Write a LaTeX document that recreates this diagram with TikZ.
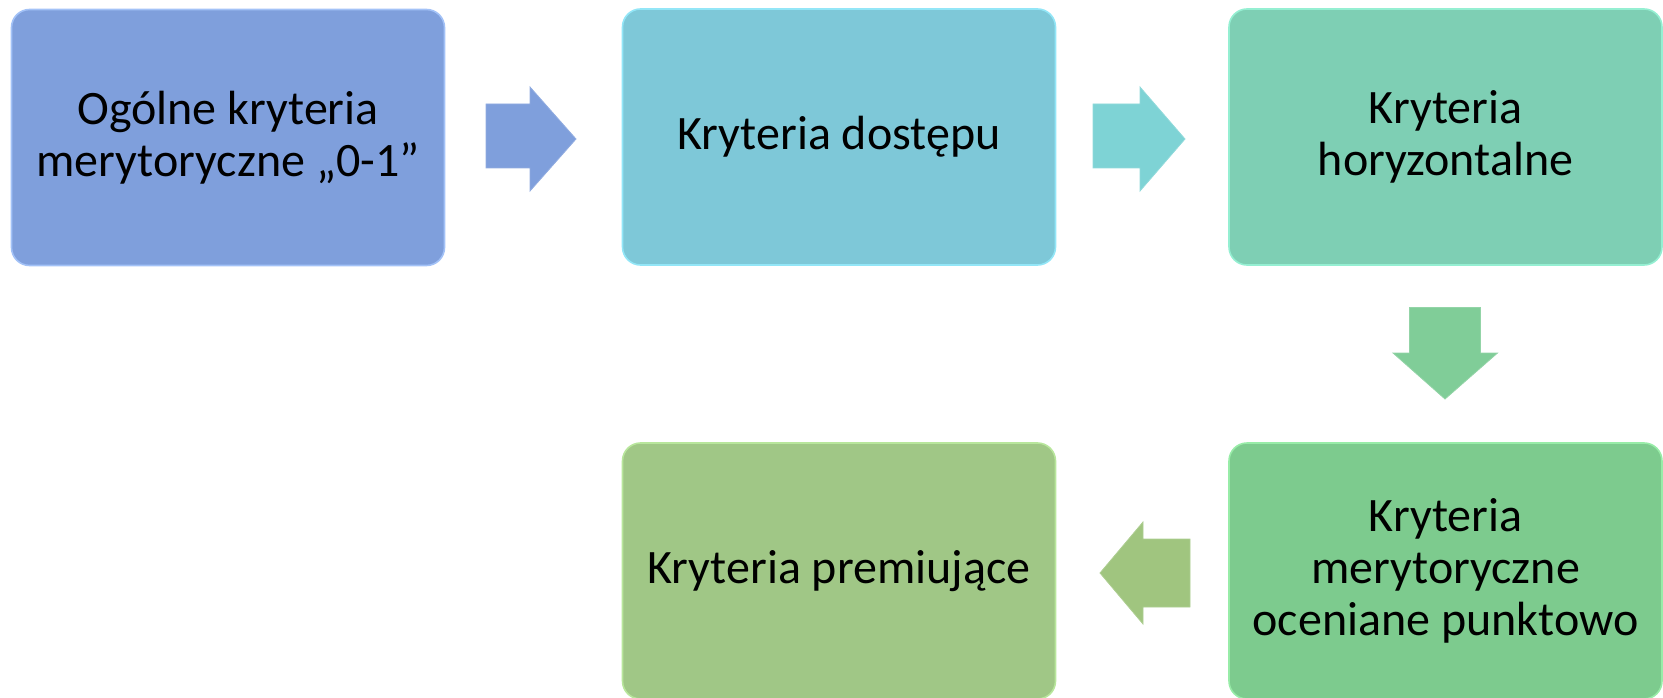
\documentclass[tikz,border=0pt]{standalone}
\usepackage{fontspec}
\setmainfont{Carlito}
\definecolor{cA}{HTML}{7F9FDC}\definecolor{cAe}{HTML}{A3C2F7}
\definecolor{cB}{HTML}{7EC8D8}\definecolor{cBe}{HTML}{93E6F7}
\definecolor{cC}{HTML}{7ECFB4}\definecolor{cCe}{HTML}{95EFD2}
\definecolor{cD}{HTML}{7DCB8E}\definecolor{cDe}{HTML}{98ECA8}
\definecolor{cE}{HTML}{A0C786}\definecolor{cEe}{HTML}{B8E69C}
\definecolor{aA}{HTML}{7F9FDC}
\definecolor{aB}{HTML}{7ED3D5}
\definecolor{aC}{HTML}{80CD98}
\definecolor{aD}{HTML}{A0C57F}
\tikzset{
  box/.style={rounded corners=18pt, line width=1.6pt, align=center, inner sep=0pt,
    minimum width=433pt, minimum height=256pt,
    font=\fontsize{48}{52}\selectfont},
  blockarrow/.style={line width=0.8pt, line join=miter}
}
\begin{document}
\begin{tikzpicture}[x=1pt,y=-1pt]
\useasboundingbox (0,0) rectangle (1663,698);
\node[box, fill=cA, draw=cAe] (b1) at (228,137.5) {Ogólne kryteria\\merytoryczne „0-1”};
\node[box, fill=cB, draw=cBe] (b2) at (839,137) {Kryteria dostępu};
\node[box, fill=cC, draw=cCe] (b3) at (1445.5,137) {Kryteria\\horyzontalne};
\node[box, fill=cD, draw=cDe] (b4) at (1445.5,571) {Kryteria\\merytoryczne\\oceniane punktowo};
\node[box, fill=cE, draw=cEe] (b5) at (839,571) {Kryteria premiujące};
% right arrow 1
\filldraw[blockarrow, fill=aA, draw=aA!85!white] (486,104) -- (530,104) -- (530,87) -- (576,139) -- (530,191) -- (530,168) -- (486,168) -- cycle;
% right arrow 2
\filldraw[blockarrow, fill=aB, draw=aB!85!white] (1093,104) -- (1140,104) -- (1140,87) -- (1185,139) -- (1140,191) -- (1140,168) -- (1093,168) -- cycle;
% down arrow
\filldraw[blockarrow, fill=aC, draw=aC!85!white] (1409.5,307.5) -- (1480.5,307.5) -- (1480.5,353) -- (1497.5,353) -- (1445,399) -- (1393,353) -- (1409.5,353) -- cycle;
% left arrow
\filldraw[blockarrow, fill=aD, draw=aD!85!white] (1190,539) -- (1143,539) -- (1143,522) -- (1100,573) -- (1143,624) -- (1143,607) -- (1190,607) -- cycle;
\end{tikzpicture}
\end{document}
